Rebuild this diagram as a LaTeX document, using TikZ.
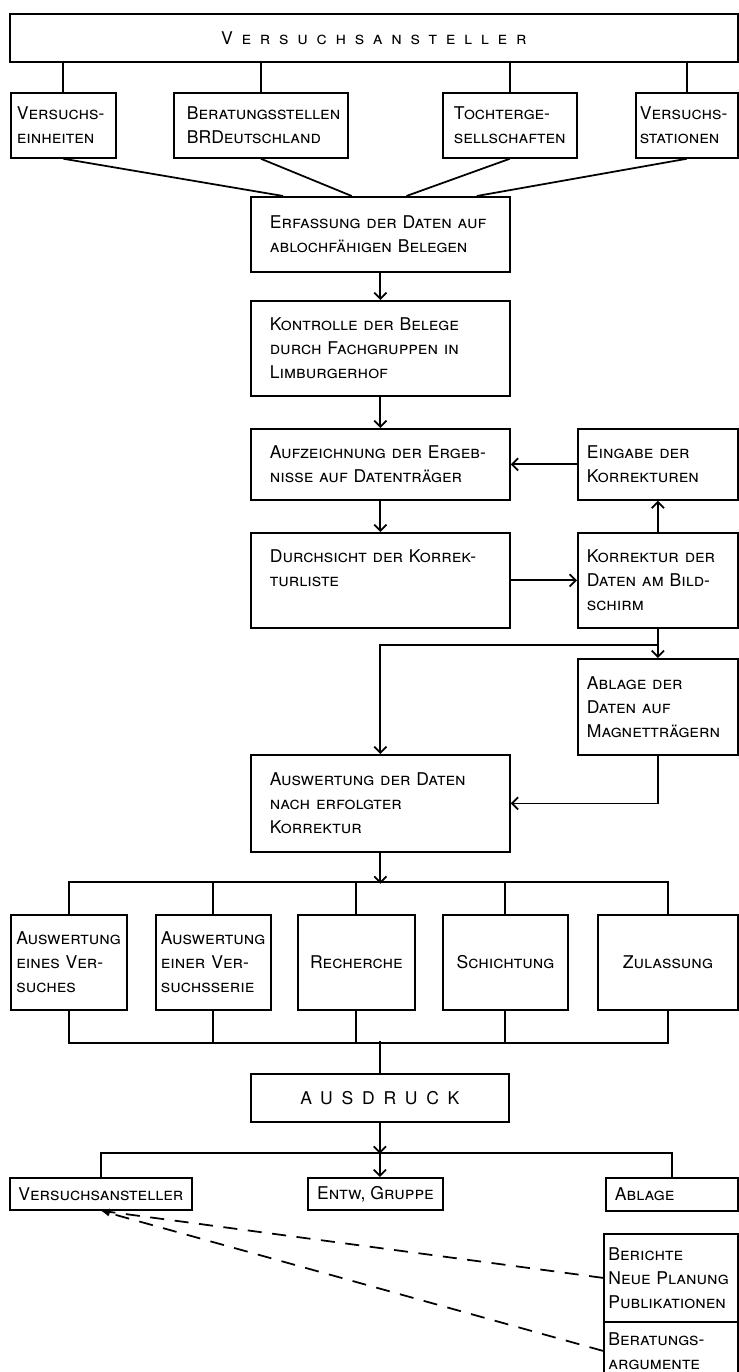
\documentclass[tikz,border=0pt]{standalone}
\usepackage{fontspec}
\setmainfont{TeX Gyre Heros}
\usetikzlibrary{calc,arrows.meta}

\newcommand{\kap}{\fontsize{10}{13.66}\selectfont\scshape\hyphenpenalty=10000 \exhyphenpenalty=10000 }
\newcommand{\sperr}[1]{{\addfontfeature{LetterSpace=50}#1}}

\tikzset{
  kasten/.style={draw, anchor=north west, align=left, inner sep=0pt, font=\kap},
  mittig/.style={kasten, align=center}
}

\begin{document}
\begin{tikzpicture}[x=0.02cm, y=-0.02cm, line width=1pt, >={Straight Barb[length=3.5pt,width=7pt]}]
\useasboundingbox (0,0) rectangle (739,1372);

% Kopf
\node[mittig, minimum width=14.56cm, minimum height=0.96cm] (anst) at (9,13) {\sperr{Versuchsansteller}};

% Einsender
\node[kasten, minimum width=2.1cm, minimum height=1.3cm, text width=1.86cm] (einheiten) at (10,92) {Versuchs-\\einheiten};
\node[kasten, minimum width=3.48cm, minimum height=1.3cm, text width=2.96cm] (beratung) at (173,92) {Beratungsstellen\\BRDeutschland};
\node[kasten, minimum width=2.68cm, minimum height=1.3cm, text width=2.24cm] (tochter) at (442,92) {Tochterge-\\sellschaften};
\node[kasten, minimum width=2.04cm, minimum height=1.3cm, text width=1.88cm] (stationen) at (635,92) {Versuchs-\\stationen};

% Hauptspalte
\node[kasten, minimum width=5.18cm, minimum height=1.5cm, text width=4.42cm] (erfassung) at (250,196) {Erfassung der Daten auf\\ablochfähigen Belegen};
\node[kasten, minimum width=5.18cm, minimum height=1.9cm, text width=4.42cm] (kontrolle) at (250,300) {Kontrolle der Belege\\durch Fachgruppen in\\Limburgerhof};
\node[kasten, minimum width=5.18cm, minimum height=1.42cm, text width=4.42cm] (aufzeichnung) at (250,428) {Aufzeichnung der Ergeb-\\nisse auf Datenträger};
\node[kasten, minimum width=5.18cm, minimum height=1.9cm, text width=4.42cm] (durchsicht) at (250,532) {Durchsicht der Korrek-\\turliste\\\mbox{}};
\node[kasten, minimum width=5.18cm, minimum height=1.94cm, text width=4.42cm] (auswertung) at (250,754) {Auswertung der Daten\\nach erfolgter\\Korrektur};

% Korrekturschleife
\node[kasten, minimum width=3.2cm, minimum height=1.42cm, text width=2.84cm] (eingabe) at (577,428) {Eingabe der\\Korrekturen};
\node[kasten, minimum width=3.2cm, minimum height=1.9cm, text width=2.84cm] (korrektur) at (577,532) {Korrektur der\\Daten am Bild-\\schirm};
\node[kasten, minimum width=3.2cm, minimum height=1.92cm, text width=2.84cm] (ablage) at (577,658) {Ablage der\\Daten auf\\Magnetträgern};

% Auswertungen
\node[kasten, minimum width=2.32cm, minimum height=1.9cm, text width=2.1cm] (einzel) at (10,914) {Auswertung\\eines Ver-\\suches};
\node[kasten, minimum width=2.3cm, minimum height=1.9cm, text width=2.1cm] (serie) at (155,914) {Auswertung\\einer Ver-\\suchsserie};
\node[mittig, minimum width=2.34cm, minimum height=1.9cm] (recherche) at (297,914) {Recherche};
\node[mittig, minimum width=2.5cm, minimum height=1.9cm] (schichtung) at (442,914) {Schichtung};
\node[mittig, minimum width=2.8cm, minimum height=1.9cm] (zulassung) at (597,914) {Zulassung};

% Ausdruck und Empfaenger
\node[mittig, minimum width=5.16cm, minimum height=0.96cm] (ausdruck) at (250,1073) {\sperr{AUSDRUCK}};
\node[mittig, minimum width=3.64cm, minimum height=0.64cm] (vanst) at (9,1177) {Versuchsansteller};
\node[mittig, minimum width=2.7cm, minimum height=0.64cm] (entw) at (307,1177) {Entw, Gruppe};
\node[kasten, minimum width=2.64cm, minimum height=0.66cm, text width=2.28cm] (ablagezwei) at (605,1177) {Ablage};
\node[kasten, minimum width=2.68cm, minimum height=1.76cm, text width=2.5cm] (berichte) at (603,1233) {Berichte\\Neue Planung\\Publikationen};
\node[kasten, minimum width=2.68cm, minimum height=1.16cm, text width=2.5cm] (argumente) at (603,1321) {Beratungs-\\argumente};

% Verbindungen oben
\foreach \n in {einheiten,beratung,tochter,stationen}
  \draw (\n.north) -- (\n.north |- anst.south);
\draw (einheiten.south) -- ($(erfassung.north west)!0.127!(erfassung.north east)$);
\draw (beratung.south) -- ($(erfassung.north west)!0.39!(erfassung.north east)$);
\draw (tochter.south) -- ($(erfassung.north west)!0.60!(erfassung.north east)$);
\draw (stationen.south) -- ($(erfassung.north west)!0.87!(erfassung.north east)$);

% Pfeile Hauptspalte
\draw[->] (erfassung) -- (kontrolle);
\draw[->] (kontrolle) -- (aufzeichnung);
\draw[->] (aufzeichnung) -- (durchsicht);
\draw[->] (durchsicht) -- (korrektur);
\draw[->] (korrektur) -- (eingabe);
\draw[->] (eingabe) -- (aufzeichnung);
\draw[->] (korrektur) -- (ablage);
\draw[->] (korrektur.south) ++(0,16) -| (auswertung.north);
\draw[->] (ablage.south) |- (auswertung.east);

% Verteiler
\draw[->] (auswertung.south) -- ++(0,31);
\draw (einzel.north) -- ++(0,-32) -| (zulassung.north);
\foreach \n in {serie,recherche,schichtung}
  \draw (\n.north) -- ++(0,-32);
\draw (einzel.south) -- ++(0,32) -| (zulassung.south);
\foreach \n in {serie,recherche,schichtung}
  \draw (\n.south) -- ++(0,32);
\draw (ausdruck.north) -- ++(0,-32);

% Verteilung Ausdruck
\draw[->] (ausdruck.south) -- ++(0,31);
\draw[->] (ausdruck.south) -- (ausdruck.south |- entw.north);
\draw (vanst.north) -- ++(0,-24) -| (ablagezwei.north);

% Rueckmeldung
\draw[-{Latex[length=5pt,width=4pt]}, dash pattern=on 8pt off 6pt] (berichte.west) -- (vanst.south);
\draw[-{Latex[length=5pt,width=4pt]}, dash pattern=on 8pt off 6pt] (argumente.west) -- (vanst.south);
\end{tikzpicture}
\end{document}
